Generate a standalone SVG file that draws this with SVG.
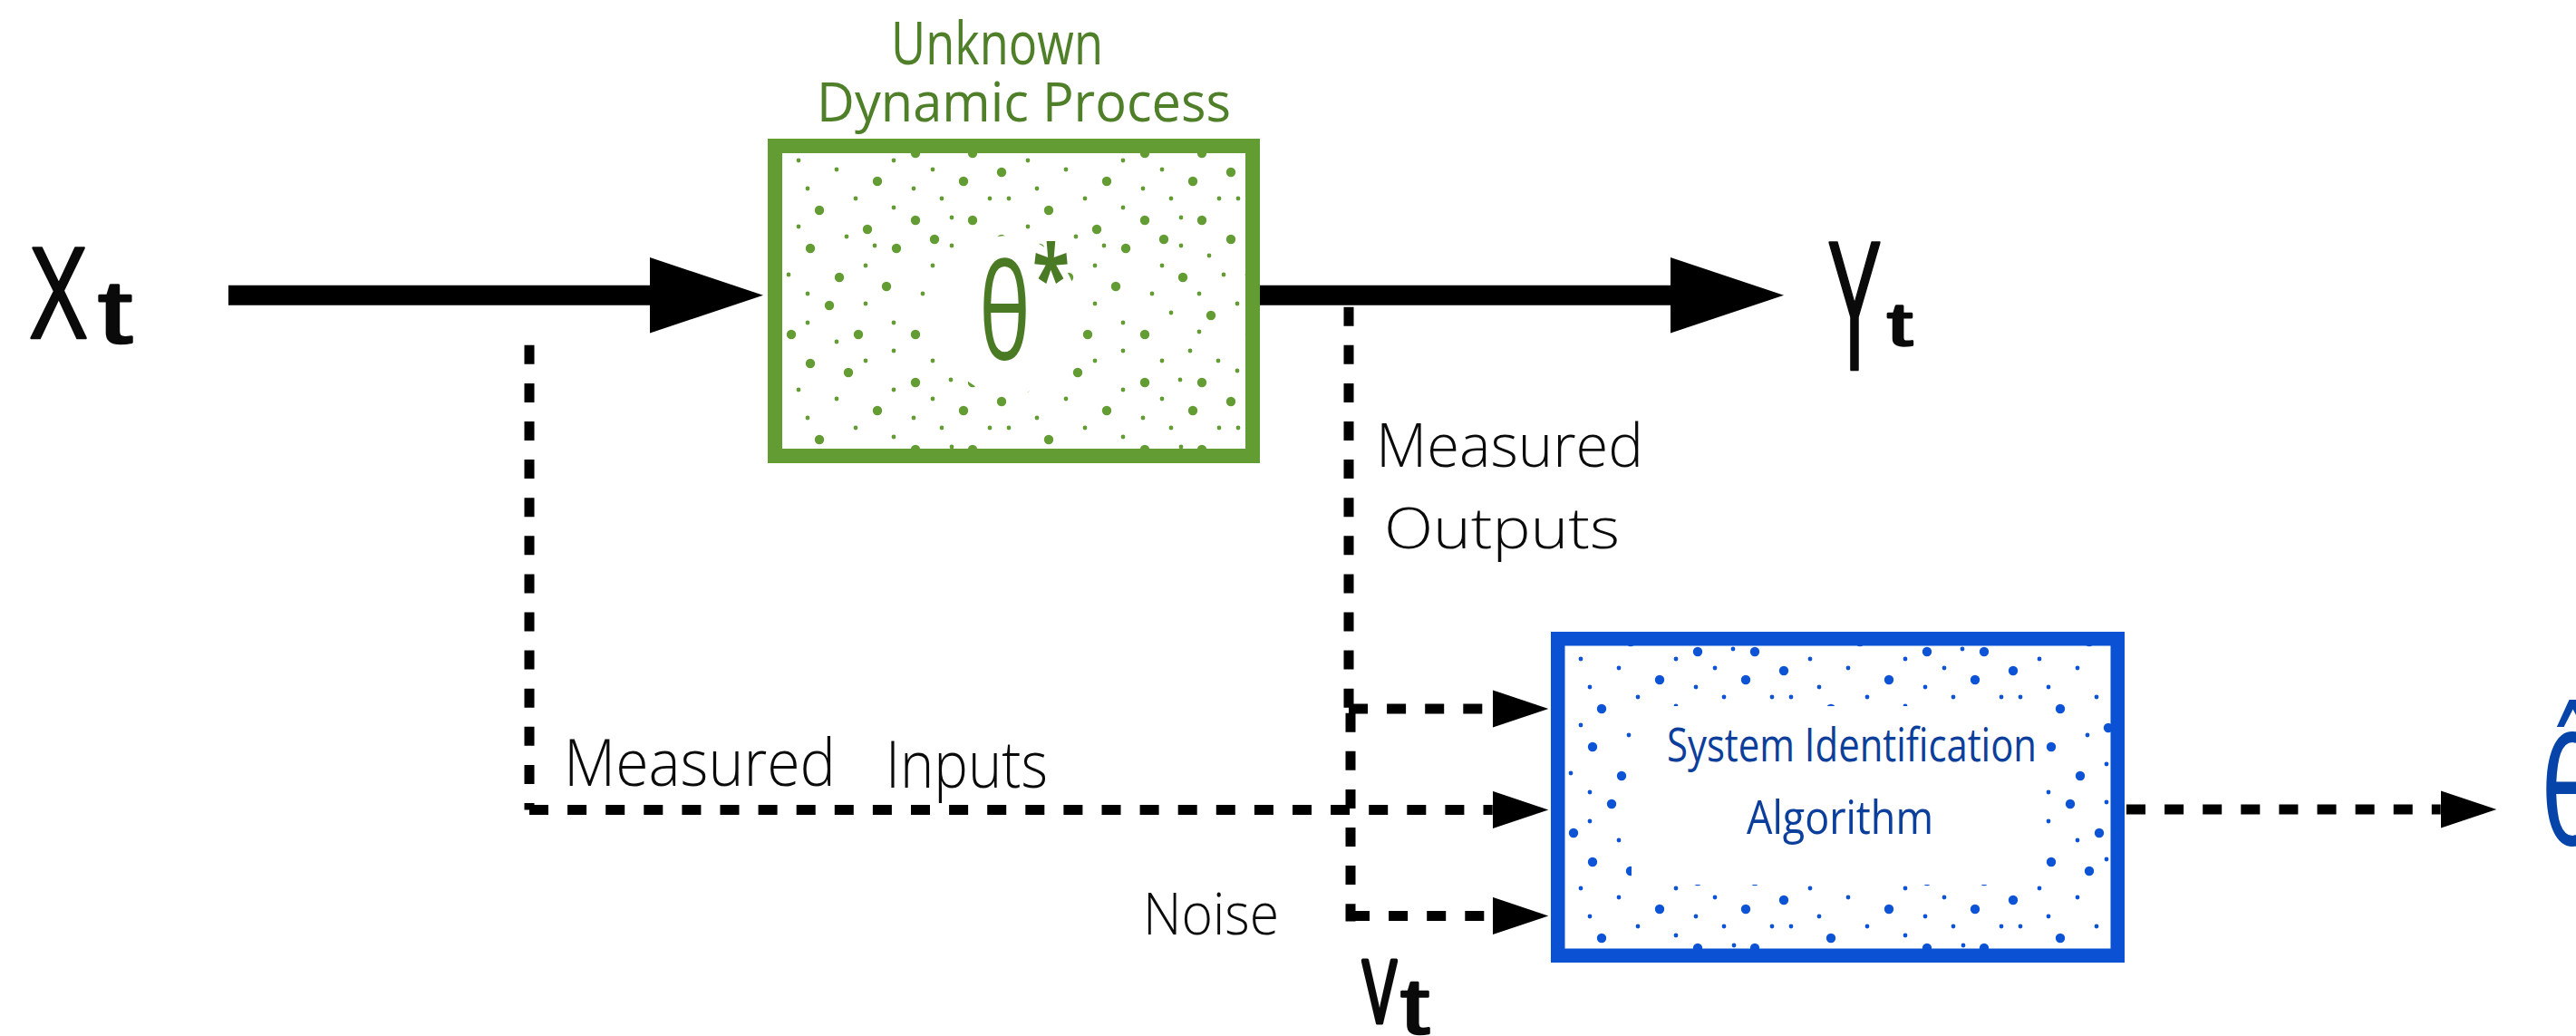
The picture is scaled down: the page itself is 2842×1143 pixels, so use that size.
<svg xmlns="http://www.w3.org/2000/svg" xmlns:xlink="http://www.w3.org/1999/xlink" width="2842" height="1143" viewBox="0 0 2842 1143">
  <style>
    .hand { font-family: "Open Sans", "DejaVu Sans", sans-serif; font-weight: 300; fill: #0a0a0a; }
    .math { font-family: "Liberation Sans", "DejaVu Sans", sans-serif; fill: #0a0a0a; stroke: #0a0a0a; stroke-width: 2.5; stroke-linejoin: round; }
    .green-title { font-family: "Open Sans", "DejaVu Sans", sans-serif; font-weight: 500; fill: #4f7f28; }
    .green-math { font-family: "Open Sans", "DejaVu Sans", sans-serif; font-weight: 400; fill: #4a7a23; }
    .blue-text { font-family: "Open Sans", "DejaVu Sans", sans-serif; font-weight: 500; fill: #0c3e9c; }
    .solid { fill: none; stroke: #000; stroke-width: 22; }
    .dashed { fill: none; stroke: #000; stroke-width: 11; stroke-dasharray: 21 21.1; }
  </style>
  <defs>
    <!-- one 253x253 tile of speckle dots, shared by both boxes -->
    <g id="dot-tile">
      <circle cx="147" cy="0" r="5.2"/><circle cx="210" cy="0" r="5.2"/>
      <circle cx="147" cy="253" r="5.2"/><circle cx="210" cy="253" r="5.2"/>
      <circle cx="242" cy="21" r="5.2"/><circle cx="105" cy="31" r="5.2"/>
      <circle cx="200" cy="31" r="5.2"/><circle cx="41" cy="63" r="5.2"/>
      <circle cx="147" cy="74" r="5.2"/><circle cx="210" cy="74" r="5.2"/>
      <circle cx="94" cy="84" r="5.2"/><circle cx="168" cy="95" r="5.2"/>
      <circle cx="242" cy="95" r="5.2"/><circle cx="31" cy="105" r="5.2"/>
      <circle cx="126" cy="105" r="5.2"/><circle cx="63" cy="137" r="5.2"/>
      <circle cx="189" cy="137" r="5.2"/><circle cx="115" cy="147" r="5.2"/>
      <circle cx="52" cy="168" r="5.2"/><circle cx="220" cy="179" r="5.2"/>
      <circle cx="10" cy="200" r="5.2"/><circle cx="84" cy="200" r="5.2"/>
      <circle cx="147" cy="200" r="5.2"/><circle cx="31" cy="232" r="5.2"/>
      <circle cx="73" cy="242" r="5.2"/>
      <circle cx="18" cy="8" r="2.4"/><circle cx="123" cy="8" r="2.4"/>
      <circle cx="60" cy="18" r="2.4"/><circle cx="166" cy="18" r="2.4"/>
      <circle cx="28" cy="39" r="2.4"/><circle cx="145" cy="39" r="2.4"/>
      <circle cx="81" cy="50" r="2.4"/><circle cx="176" cy="50" r="2.4"/>
      <circle cx="229" cy="50" r="2.4"/><circle cx="250" cy="50" r="2.4"/>
      <circle cx="-3" cy="50" r="2.4"/><circle cx="123" cy="60" r="2.4"/>
      <circle cx="187" cy="71" r="2.4"/><circle cx="18" cy="81" r="2.4"/>
      <circle cx="71" cy="92" r="2.4"/><circle cx="102" cy="102" r="2.4"/>
      <circle cx="187" cy="102" r="2.4"/><circle cx="218" cy="113" r="2.4"/>
      <circle cx="92" cy="124" r="2.4"/><circle cx="166" cy="124" r="2.4"/>
      <circle cx="7" cy="134" r="2.4"/><circle cx="234" cy="134" r="2.4"/>
      <circle cx="28" cy="155" r="2.4"/><circle cx="155" cy="155" r="2.4"/>
      <circle cx="207" cy="155" r="2.4"/><circle cx="92" cy="166" r="2.4"/>
      <circle cx="249" cy="166" r="2.4"/><circle cx="-4" cy="166" r="2.4"/>
      <circle cx="176" cy="176" r="2.4"/><circle cx="28" cy="187" r="2.4"/>
      <circle cx="123" cy="187" r="2.4"/><circle cx="207" cy="197" r="2.4"/>
      <circle cx="60" cy="208" r="2.4"/><circle cx="123" cy="218" r="2.4"/>
      <circle cx="197" cy="218" r="2.4"/><circle cx="92" cy="229" r="2.4"/>
      <circle cx="166" cy="229" r="2.4"/><circle cx="228" cy="229" r="2.4"/>
      <circle cx="249" cy="240" r="2.4"/><circle cx="-4" cy="240" r="2.4"/>
      <circle cx="186" cy="250" r="2.4"/><circle cx="186" cy="-3" r="2.4"/>
    </g>
    <pattern id="dots-green" patternUnits="userSpaceOnUse" x="863" y="169" width="253" height="253">
      <use href="#dot-tile" fill="#629c33"/>
    </pattern>
    <pattern id="dots-blue" patternUnits="userSpaceOnUse" x="1726" y="719" width="253" height="253">
      <use href="#dot-tile" fill="#0d53d6"/>
    </pattern>
    <marker id="head-lg" markerUnits="userSpaceOnUse" viewBox="0 -42 125 84" refX="0" refY="0" markerWidth="125" markerHeight="84" orient="auto">
      <path d="M0,-41.7 L125,0 L0,41.7 Z" fill="#000"/>
    </marker>
    <marker id="head-sm" markerUnits="userSpaceOnUse" viewBox="0 -21 62 42" refX="0" refY="0" markerWidth="62" markerHeight="42" orient="auto">
      <path d="M0,-20.7 L61.6,0 L0,20.7 Z" fill="#000"/>
    </marker>
  </defs>

  <rect width="2842" height="1143" fill="#fff"/>

  <!-- signal paths -->
  <g id="connectors">
    <path class="solid" d="M252,325.7 H717" marker-end="url(#head-lg)"/>
    <path class="solid" d="M1390,325.7 H1843" marker-end="url(#head-lg)"/>
    <path class="dashed" d="M584,380.8 V893.5"/>
    <path class="dashed" d="M584,893.5 H1646.7" marker-end="url(#head-sm)"/>
    <path class="dashed" d="M1488,338.7 V781"/>
    <path class="dashed" d="M1488,782 H1646.7" marker-end="url(#head-sm)"/>
    <path class="dashed" d="M1490,786.7 V1016.5"/>
    <path class="dashed" d="M1490,1010.5 H1646.7" marker-end="url(#head-sm)"/>
    <path class="dashed" d="M2346,893 H2692.7" marker-end="url(#head-sm)"/>
  </g>

  <!-- plant block -->
  <g id="process">
    <rect x="855" y="161" width="527" height="342" fill="url(#dots-green)"/>
    <ellipse cx="1112" cy="348" rx="78" ry="88" fill="#fff"/>
    <rect x="855" y="161" width="527" height="342" fill="none" stroke="#629c33" stroke-width="16"/>
    <text class="green-title">
      <tspan x="983" y="71" font-size="66" textLength="234" lengthAdjust="spacingAndGlyphs">Unknown</tspan>
      <tspan x="901" y="134" font-size="60" textLength="457" lengthAdjust="spacingAndGlyphs">Dynamic Process</tspan>
    </text>
    <text class="green-math"><tspan x="1080" y="397" font-size="147" textLength="57" lengthAdjust="spacingAndGlyphs">θ</tspan><tspan x="1139" y="343" font-size="100" font-weight="700" textLength="41" lengthAdjust="spacingAndGlyphs">*</tspan></text>
  </g>

  <!-- estimator block -->
  <g id="sysid">
    <rect x="1718.75" y="704.75" width="617.5" height="349.5" fill="url(#dots-blue)"/>
    <rect x="1800" y="779" width="454" height="197" fill="#fff"/>
    <rect x="1718.75" y="704.75" width="617.5" height="349.5" fill="none" stroke="#0b51d3" stroke-width="15.5"/>
    <text class="blue-text" font-size="52">
      <tspan x="1839" y="840" textLength="408" lengthAdjust="spacingAndGlyphs">System Identification</tspan>
      <tspan x="1927" y="920" textLength="206" lengthAdjust="spacingAndGlyphs">Algorithm</tspan>
    </text>
  </g>

  <!-- signal labels -->
  <g id="label-xt">
    <text class="math"><tspan x="32" y="373" font-size="144" textLength="65" lengthAdjust="spacingAndGlyphs">X</tspan><tspan x="108" y="378" font-size="98" textLength="38" lengthAdjust="spacingAndGlyphs">t</tspan></text>
  </g>
  <g id="label-yt">
    <text class="math"><tspan x="2016" y="408" font-size="204" textLength="60" lengthAdjust="spacingAndGlyphs">Y</tspan><tspan x="2082" y="381" font-size="66" textLength="28" lengthAdjust="spacingAndGlyphs">t</tspan></text>
  </g>
  <g id="label-vt">
    <text class="math"><tspan x="1503" y="1128" font-size="98" textLength="38" stroke-width="5" lengthAdjust="spacingAndGlyphs">V</tspan><tspan x="1545" y="1140" font-size="88" textLength="32" lengthAdjust="spacingAndGlyphs">t</tspan></text>
  </g>
  <g id="label-measured-inputs">
    <text class="hand" font-size="72"><tspan x="622" y="867" textLength="300" lengthAdjust="spacingAndGlyphs">Measured</tspan> <tspan x="977" y="869" textLength="179" lengthAdjust="spacingAndGlyphs">Inputs</tspan></text>
  </g>
  <g id="label-measured-outputs">
    <text class="hand">
      <tspan x="1518" y="515" font-size="66" textLength="295" lengthAdjust="spacingAndGlyphs">Measured</tspan>
      <tspan x="1527" y="605" font-size="62" textLength="260" lengthAdjust="spacingAndGlyphs">Outputs</tspan>
    </text>
  </g>
  <g id="label-noise">
    <text class="hand" x="1261" y="1031" font-size="64" textLength="150" lengthAdjust="spacingAndGlyphs">Noise</text>
  </g>
  <g id="label-theta-hat">
    <text x="2803" y="932" font-family="'DejaVu Sans', sans-serif" font-size="162" fill="#0644aa" textLength="70" lengthAdjust="spacingAndGlyphs">θ̂</text>
  </g>
</svg>
